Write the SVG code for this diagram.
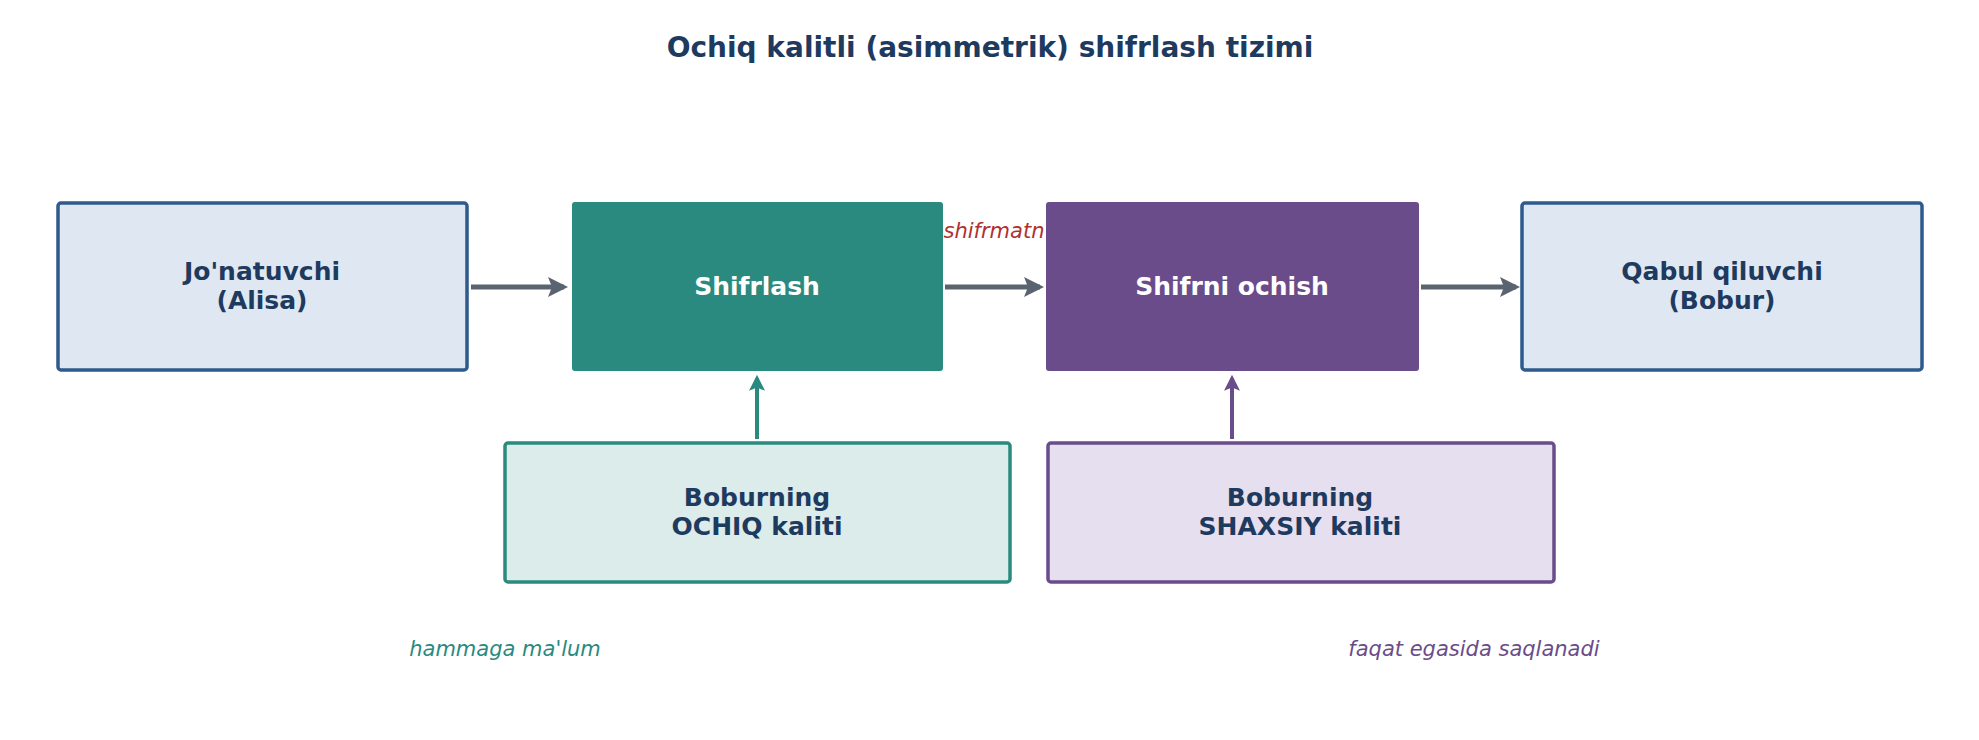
<svg xmlns="http://www.w3.org/2000/svg" width="1979" height="740" viewBox="0 0 1979 740">
<style>
text{font-family:"DejaVu Sans","Noto Sans",sans-serif;text-anchor:middle}
.t{font-size:25px;font-weight:bold;fill:#1e3a5f}
.w{font-size:25px;font-weight:bold;fill:#fff}
.i{font-size:21px;font-style:italic}
</style>
<defs>
<marker id="ag" viewBox="0 0 10 10" refX="8" refY="5" markerWidth="4" markerHeight="4" orient="auto"><path d="M0,0L10,5L0,10L2,5z" fill="#5a6470"/></marker>
<marker id="at" viewBox="0 0 10 10" refX="8" refY="5" markerWidth="4" markerHeight="4" orient="auto"><path d="M0,0L10,5L0,10L2,5z" fill="#2a8a80"/></marker>
<marker id="ap" viewBox="0 0 10 10" refX="8" refY="5" markerWidth="4" markerHeight="4" orient="auto"><path d="M0,0L10,5L0,10L2,5z" fill="#6a4c8a"/></marker>
</defs>
<rect width="1979" height="740" fill="#fff"/>
<text x="990" y="57" style="font-size:28px;font-weight:bold;fill:#1e3a5f">Ochiq kalitli (asimmetrik) shifrlash tizimi</text>
<text x="994" y="238" class="i" fill="#b03030">shifrmatn</text>
<g id="connectors" stroke-width="5" fill="none">
<line x1="471" y1="287" x2="564" y2="287" stroke="#5a6470" marker-end="url(#ag)"/>
<line x1="945" y1="287" x2="1040" y2="287" stroke="#5a6470" marker-end="url(#ag)"/>
<line x1="1421" y1="287" x2="1516" y2="287" stroke="#5a6470" marker-end="url(#ag)"/>
<line x1="757" y1="439" x2="757" y2="378" stroke="#2a8a80" stroke-width="4" marker-end="url(#at)"/>
<line x1="1232" y1="439" x2="1232" y2="378" stroke="#6a4c8a" stroke-width="4" marker-end="url(#ap)"/>
</g>
<g id="n1"><rect x="58" y="203" width="409" height="167" rx="3" fill="#dfe8f2" stroke="#2e5a8c" stroke-width="3.5"/><text x="262" y="280" class="t">Jo'natuvchi</text><text x="262" y="309" class="t">(Alisa)</text></g>
<g id="n2"><rect x="572" y="202" width="371" height="169" rx="3" fill="#2a8a80"/><text x="757" y="295" class="w">Shifrlash</text></g>
<g id="n3"><rect x="1046" y="202" width="373" height="169" rx="3" fill="#6a4c8a"/><text x="1232" y="295" class="w">Shifrni ochish</text></g>
<g id="n4"><rect x="1522" y="203" width="400" height="167" rx="3" fill="#dfe8f2" stroke="#2e5a8c" stroke-width="3.5"/><text x="1722" y="280" class="t">Qabul qiluvchi</text><text x="1722" y="309" class="t">(Bobur)</text></g>
<g id="n5"><rect x="505" y="443" width="505" height="139" rx="3" fill="#dcecea" stroke="#2a8a80" stroke-width="3.5"/><text x="757" y="506" class="t">Boburning</text><text x="757" y="535" class="t">OCHIQ kaliti</text></g>
<g id="n6"><rect x="1048" y="443" width="506" height="139" rx="3" fill="#e6dff0" stroke="#6a4c8a" stroke-width="3.5"/><text x="1300" y="506" class="t">Boburning</text><text x="1300" y="535" class="t">SHAXSIY kaliti</text></g>
<text x="505" y="656" class="i" fill="#2a8a80">hammaga ma'lum</text>
<text x="1474" y="656" class="i" fill="#6a4c8a">faqat egasida saqlanadi</text>
</svg>
